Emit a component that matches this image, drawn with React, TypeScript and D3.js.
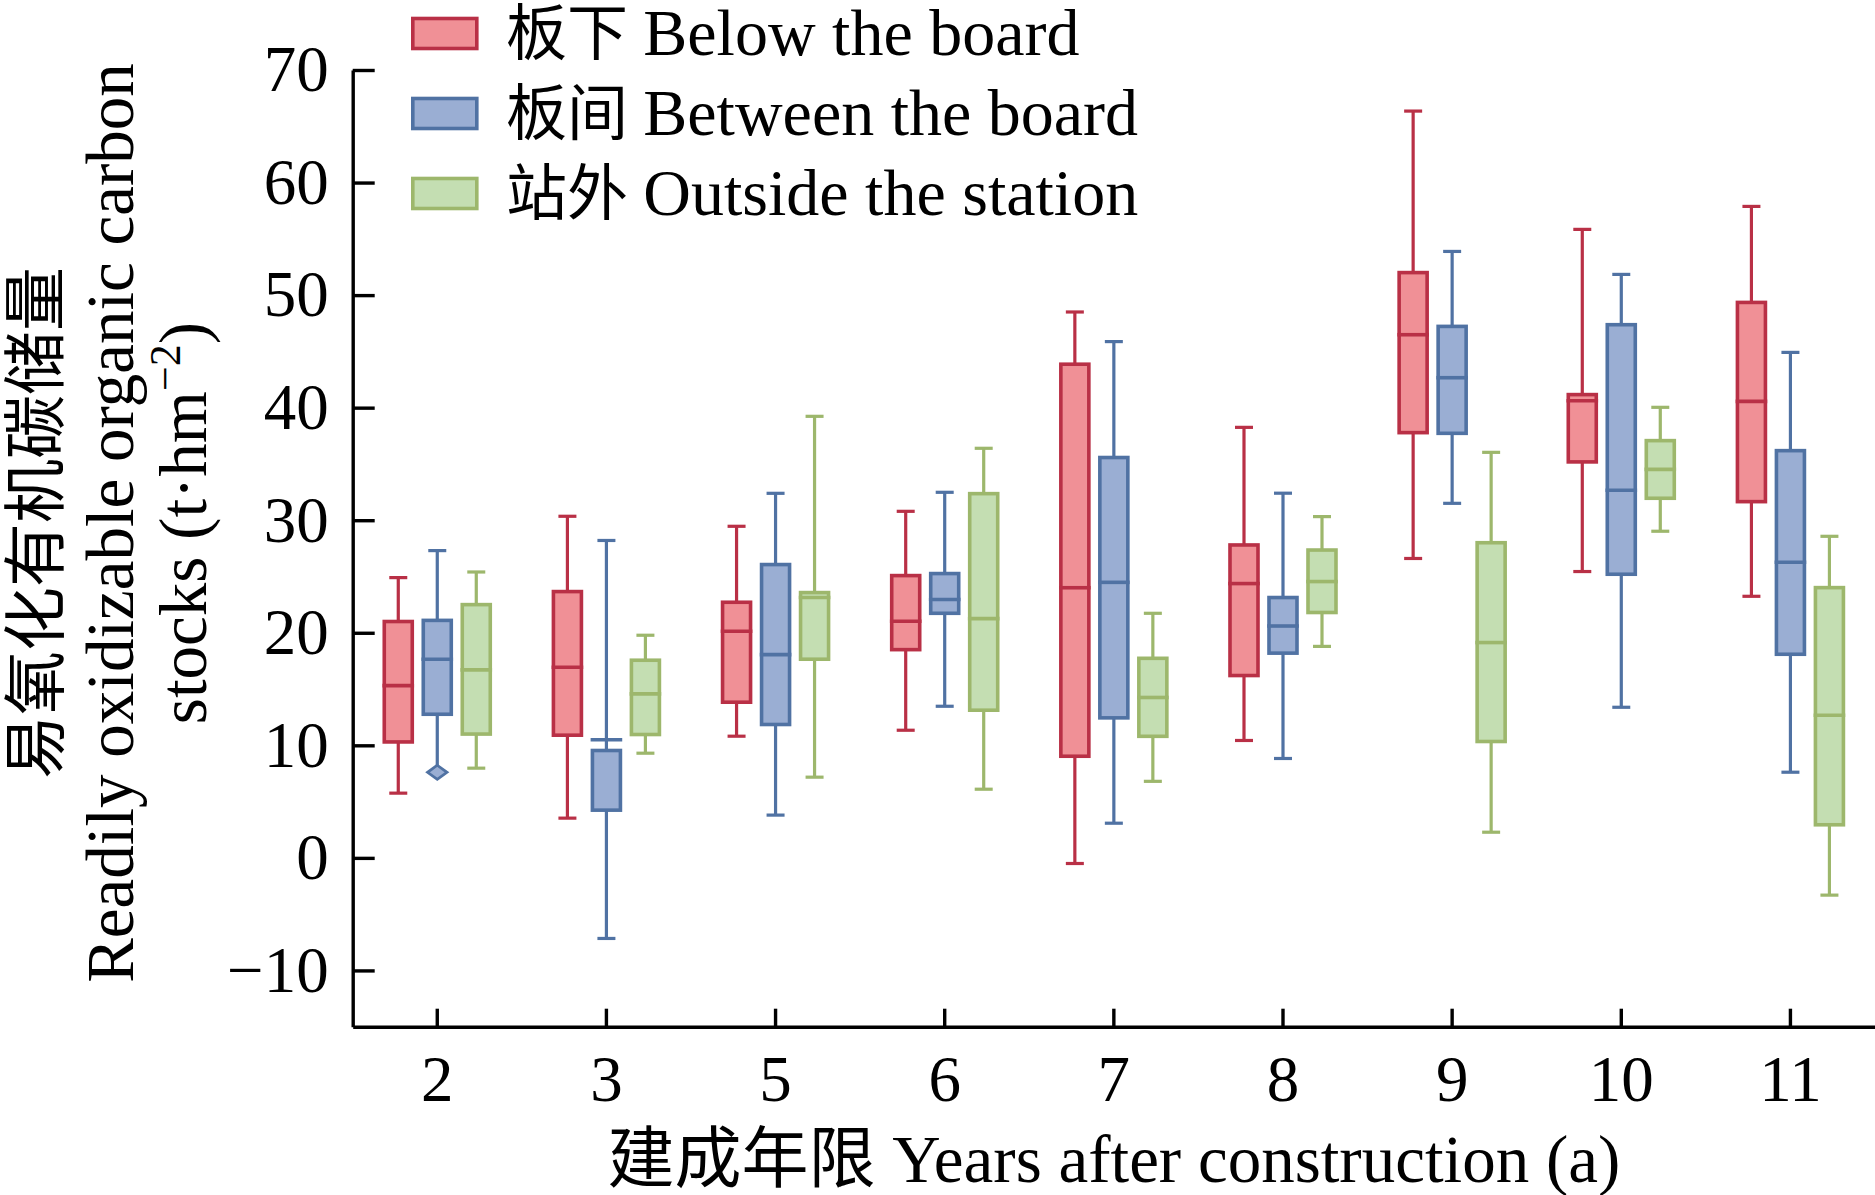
//@ts-nocheck
import React, { useRef, useEffect } from "react";
import * as d3 from "d3";

const categories = ["2", "3", "5", "6", "7", "8", "9", "10", "11"];
const seriesZh = ["板下", "板间", "站外"];
const seriesEn = ["Below the board", "Between the board", "Outside the station"];
const yTicks = [-10, 0, 10, 20, 30, 40, 50, 60, 70];

// 板下 Below the board
const belowHigh = [24.9, 30.35, 29.46, 30.79, 48.5, 38.25, 66.35, 55.84, 57.88];
const belowQ3 = [21.0, 23.66, 22.71, 25.08, 43.86, 27.8, 52.0, 41.16, 49.35];
const belowMedian = [15.3, 16.94, 20.13, 21.02, 24.0, 24.37, 46.48, 40.62, 40.56];
const belowQ1 = [10.3, 10.9, 13.83, 18.5, 9.03, 16.2, 37.78, 35.18, 31.65];
const belowLow = [5.75, 3.53, 10.81, 11.34, -0.5, 10.43, 26.6, 25.44, 23.24];

// 板间 Between the board
const betweenHigh = [27.3, 28.2, 32.39, 32.48, 45.87, 32.4, 53.88, 51.84, 44.91];
const betweenQ3 = [21.1, 9.54, 26.06, 25.26, 35.57, 23.13, 47.22, 47.37, 36.18];
const betweenMedian = [17.65, 10.5, 18.06, 22.95, 24.48, 20.6, 42.66, 32.66, 26.27];
const betweenQ1 = [12.76, 4.24, 11.85, 21.73, 12.44, 18.19, 37.72, 25.2, 18.09];
const betweenLow = [7.6, -7.16, 3.8, 13.47, 3.08, 8.83, 31.5, 13.38, 7.61];

// 站外 Outside the station
const outsideHigh = [25.4, 19.78, 39.23, 36.39, 21.73, 30.32, 36.03, 40.03, 28.57];
const outsideQ3 = [22.5, 17.56, 23.57, 32.36, 17.73, 27.35, 28.0, 37.07, 24.01];
const outsideMedian = [16.7, 14.57, 23.13, 21.26, 14.25, 24.55, 19.13, 34.52, 12.67];
const outsideQ1 = [11.0, 10.96, 17.65, 13.12, 10.8, 21.8, 10.34, 31.95, 2.94];
const outsideLow = [7.97, 9.3, 7.17, 6.1, 6.8, 18.79, 2.28, 29.02, -3.31];

// outliers: [category, series index, value]
const outliers = [["2", 1, 7.6]];

const strokeColors = ["#B93046", "#5072A3", "#9DB76C"];
const fillColors = ["#F09096", "#9AAED3", "#C4DEB2"];

const FONT = "'Liberation Serif', 'Times New Roman', 'Noto Sans CJK SC', serif";

export default function App() {
  const svgRef = useRef(null);
  const width = 1875;
  const height = 1195;

  useEffect(() => {
    const svg = d3.select(svgRef.current);
    svg.selectAll("*").remove();

    const left = 352.7;
    const top = 70;
    const bottom = 1026.7;

    const x = d3.scaleBand().domain(categories).range([left, width]).padding(0);
    const y = d3.scaleLinear().domain([-15, 70]).range([bottom, top]);
    const offset = d3.scaleOrdinal().domain([0, 1, 2]).range([-39, 0, 39]);

    const series = [
      { high: belowHigh, q3: belowQ3, med: belowMedian, q1: belowQ1, low: belowLow },
      { high: betweenHigh, q3: betweenQ3, med: betweenMedian, q1: betweenQ1, low: betweenLow },
      { high: outsideHigh, q3: outsideQ3, med: outsideMedian, q1: outsideQ1, low: outsideLow },
    ];

    const boxW = 28;
    const capW = 18;

    const rows = [];
    series.forEach((s, si) => {
      categories.forEach((c, i) => {
        rows.push({
          si,
          cx: x(c) + x.bandwidth() / 2 + offset(si),
          high: s.high[i],
          q3: s.q3[i],
          med: s.med[i],
          q1: s.q1[i],
          low: s.low[i],
        });
      });
    });

    const g = svg.append("g");

    // whiskers
    g.selectAll(".wh")
      .data(rows)
      .enter()
      .append("line")
      .attr("x1", (d) => d.cx)
      .attr("x2", (d) => d.cx)
      .attr("y1", (d) => y(d.q3))
      .attr("y2", (d) => y(d.high))
      .attr("stroke", (d) => strokeColors[d.si])
      .attr("stroke-width", 3.2);
    g.selectAll(".wl")
      .data(rows)
      .enter()
      .append("line")
      .attr("x1", (d) => d.cx)
      .attr("x2", (d) => d.cx)
      .attr("y1", (d) => y(d.q1))
      .attr("y2", (d) => y(d.low))
      .attr("stroke", (d) => strokeColors[d.si])
      .attr("stroke-width", 3.2);

    // caps
    ["high", "low"].forEach((k) => {
      g.selectAll(".cap-" + k)
        .data(rows)
        .enter()
        .append("line")
        .attr("x1", (d) => d.cx - capW / 2)
        .attr("x2", (d) => d.cx + capW / 2)
        .attr("y1", (d) => y(d[k]))
        .attr("y2", (d) => y(d[k]))
        .attr("stroke", (d) => strokeColors[d.si])
        .attr("stroke-width", 3.2);
    });

    // boxes
    g.selectAll(".box")
      .data(rows)
      .enter()
      .append("rect")
      .attr("x", (d) => d.cx - boxW / 2)
      .attr("width", boxW)
      .attr("y", (d) => y(d.q3))
      .attr("height", (d) => y(d.q1) - y(d.q3))
      .attr("fill", (d) => fillColors[d.si])
      .attr("stroke", (d) => strokeColors[d.si])
      .attr("stroke-width", 3.6);

    // medians
    g.selectAll(".med")
      .data(rows)
      .enter()
      .append("line")
      .attr("x1", (d) => d.cx - boxW / 2 - 1.8)
      .attr("x2", (d) => d.cx + boxW / 2 + 1.8)
      .attr("y1", (d) => y(d.med))
      .attr("y2", (d) => y(d.med))
      .attr("stroke", (d) => strokeColors[d.si])
      .attr("stroke-width", 3.6);

    // outliers
    const diamond = d3.symbol().type(d3.symbolDiamond2).size(200);
    g.selectAll(".out")
      .data(outliers)
      .enter()
      .append("path")
      .attr("d", diamond)
      .attr(
        "transform",
        (d) =>
          `translate(${x(d[0]) + x.bandwidth() / 2 + offset(d[1])},${y(d[2])}) scale(1.1,0.8)`
      )
      .attr("fill", (d) => fillColors[d[1]])
      .attr("stroke", (d) => strokeColors[d[1]])
      .attr("stroke-width", 3);

    // axes
    const yAxis = svg
      .append("g")
      .attr("transform", `translate(${left},0)`)
      .call(
        d3
          .axisLeft(y)
          .tickValues(yTicks)
          .tickSizeInner(-22)
          .tickSizeOuter(0)
          .tickPadding(24)
          .tickFormat((d) => (d < 0 ? "\u2212" + Math.abs(d) : d))
      );
    const xAxis = svg
      .append("g")
      .attr("transform", `translate(0,${bottom})`)
      .call(d3.axisBottom(x).tickSizeInner(-18).tickSizeOuter(0).tickPadding(28));

    [yAxis, xAxis].forEach((ax) => {
      ax.select(".domain").attr("stroke", "#000").attr("stroke-width", 3.4);
      ax.selectAll(".tick line").attr("stroke", "#000").attr("stroke-width", 3.4);
      ax.selectAll(".tick text")
        .attr("fill", "#000")
        .style("font-family", FONT)
        .style("font-size", "65px");
    });

    // x title
    svg
      .append("text")
      .attr("x", (left + width) / 2)
      .attr("y", 1182)
      .attr("text-anchor", "middle")
      .style("font-family", FONT)
      .style("font-size", "67px")
      .text("建成年限 Years after construction (a)");

    // y title
    const yt = svg.append("g").attr("transform", "translate(0,523) rotate(-90)");
    yt.append("text")
      .attr("x", 0)
      .attr("y", 58)
      .attr("text-anchor", "middle")
      .style("font-family", FONT)
      .style("font-size", "64px")
      .text("易氧化有机碳储量");
    yt.append("text")
      .attr("x", 0)
      .attr("y", 133)
      .attr("text-anchor", "middle")
      .style("font-family", FONT)
      .style("font-size", "67px")
      .text("Readily oxidizable organic carbon");
    const t3 = yt
      .append("text")
      .attr("x", 0)
      .attr("y", 206)
      .attr("text-anchor", "middle")
      .style("font-family", FONT)
      .style("font-size", "67px");
    t3.append("tspan").text("stocks (t·hm");
    t3.append("tspan").attr("dy", -26).style("font-size", "44px").text("\u22122");
    t3.append("tspan").attr("dy", 26).text(")");

    // legend
    const lg = svg
      .selectAll(".lg")
      .data(seriesEn)
      .enter()
      .append("g")
      .attr("transform", (d, i) => `translate(411,${33.5 + i * 80})`);
    lg.append("rect")
      .attr("x", 1.8)
      .attr("y", -15)
      .attr("width", 64)
      .attr("height", 30)
      .attr("fill", (d, i) => fillColors[i])
      .attr("stroke", (d, i) => strokeColors[i])
      .attr("stroke-width", 3.6);
    const lt = lg
      .append("text")
      .attr("x", 95)
      .attr("y", 21)
      .style("font-family", FONT)
      .style("font-size", "66px");
    lt.append("tspan").style("font-size", "61px").text((d, i) => seriesZh[i] + " ");
    lt.append("tspan").text((d) => d);
  }, []);

  return (
    <div style={{ position: "fixed", left: 0, top: 0, background: "#fff" }}>
      <svg ref={svgRef} width={width} height={height} style={{ display: "block" }} />
    </div>
  );
}
